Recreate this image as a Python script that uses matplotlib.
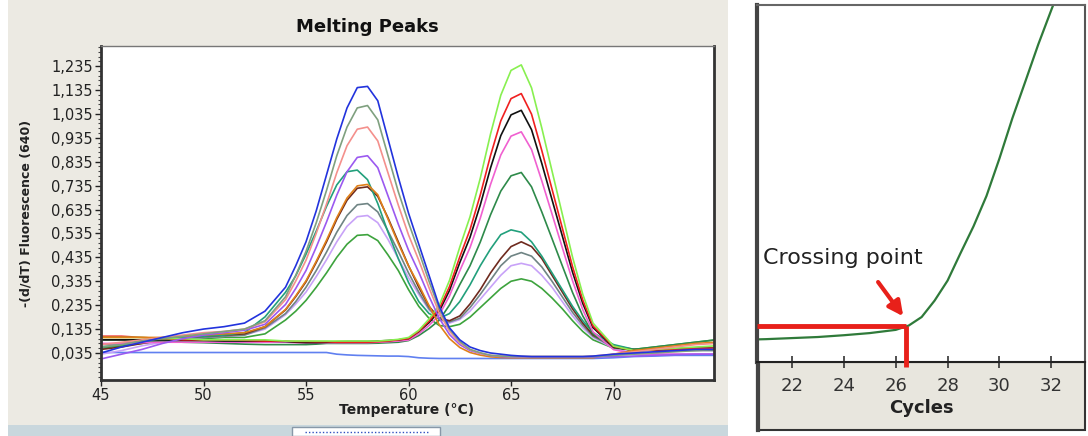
import matplotlib
matplotlib.use("Agg")
import matplotlib.pyplot as plt
from matplotlib.patches import Rectangle
from matplotlib.lines import Line2D
from matplotlib.ticker import FixedLocator

# ---------------- data: melting peaks (left panel) ----------------
temps = [45, 46, 47, 48, 49, 50, 51, 52, 53,
         54, 54.5, 55, 55.5, 56, 56.5, 57, 57.5, 58, 58.5, 59, 59.5, 60, 60.5, 61, 61.5,
         62, 62.5, 63, 63.5, 64, 64.5, 65, 65.5, 66, 66.5, 67, 67.5, 68, 68.5, 69,
         70, 71, 72, 73, 74, 75]

blue_low = [0.035, 0.06, 0.08, 0.10, 0.12, 0.135, 0.145, 0.16, 0.21,
            0.31, 0.40, 0.50, 0.63, 0.78, 0.93, 1.06, 1.145, 1.15, 1.09, 0.93, 0.77, 0.62, 0.49, 0.36, 0.23,
            0.14, 0.09, 0.06, 0.045, 0.035, 0.03, 0.025, 0.022, 0.02, 0.02, 0.02, 0.02, 0.02, 0.02, 0.022,
            0.03, 0.035, 0.04, 0.045, 0.05, 0.05]
graygreen_low = [0.06, 0.07, 0.085, 0.095, 0.105, 0.115, 0.125, 0.135, 0.17,
                 0.27, 0.36, 0.46, 0.58, 0.715, 0.86, 0.98, 1.06, 1.07, 1.01, 0.86, 0.71, 0.58, 0.46, 0.335, 0.22,
                 0.135, 0.083, 0.05, 0.036, 0.025, 0.022, 0.02, 0.02, 0.02, 0.02, 0.02, 0.02, 0.02, 0.02, 0.02,
                 0.025, 0.03, 0.035, 0.04, 0.045, 0.05]
salmon_low = [0.07, 0.08, 0.09, 0.10, 0.11, 0.12, 0.125, 0.135, 0.165,
              0.258, 0.336, 0.423, 0.536, 0.658, 0.789, 0.902, 0.971, 0.98, 0.922, 0.788, 0.654, 0.529, 0.423, 0.308, 0.202,
              0.126, 0.078, 0.049, 0.034, 0.025, 0.022, 0.02, 0.02, 0.02, 0.02, 0.02, 0.02, 0.02, 0.02, 0.022,
              0.03, 0.04, 0.05, 0.06, 0.07, 0.075]
purple_low = [0.01, 0.03, 0.05, 0.075, 0.095, 0.11, 0.12, 0.13, 0.155,
              0.238, 0.305, 0.38, 0.478, 0.583, 0.695, 0.793, 0.853, 0.86, 0.81, 0.692, 0.574, 0.465, 0.373, 0.272, 0.18,
              0.112, 0.07, 0.045, 0.033, 0.024, 0.02, 0.018, 0.018, 0.018, 0.018, 0.018, 0.018, 0.018, 0.018, 0.018,
              0.02, 0.022, 0.025, 0.028, 0.03, 0.03]
orange_low = [0.10, 0.10, 0.10, 0.10, 0.105, 0.11, 0.115, 0.12, 0.145,
              0.217, 0.274, 0.337, 0.419, 0.507, 0.601, 0.683, 0.734, 0.74, 0.697, 0.595, 0.493, 0.399, 0.32, 0.233, 0.153,
              0.095, 0.058, 0.037, 0.026, 0.019, 0.016, 0.015, 0.015, 0.015, 0.015, 0.015, 0.015, 0.015, 0.015, 0.015,
              0.03, 0.045, 0.055, 0.065, 0.075, 0.08]

lightgreen_high = [0.10, 0.10, 0.10, 0.095, 0.095, 0.09, 0.09, 0.09, 0.09,
                   0.085, 0.085, 0.085, 0.085, 0.085, 0.085, 0.085, 0.085, 0.085, 0.085, 0.088, 0.092, 0.10, 0.13, 0.177, 0.235,
                   0.339, 0.478, 0.605, 0.766, 0.951, 1.113, 1.217, 1.24, 1.144, 0.976, 0.796, 0.616, 0.436, 0.28, 0.16,
                   0.064, 0.045, 0.05, 0.055, 0.06, 0.065]
red_high = [0.105, 0.105, 0.10, 0.095, 0.09, 0.09, 0.09, 0.088, 0.085,
            0.085, 0.083, 0.083, 0.082, 0.082, 0.08, 0.08, 0.08, 0.08, 0.082, 0.085, 0.09, 0.095, 0.126, 0.168, 0.22,
            0.313, 0.437, 0.551, 0.696, 0.861, 1.006, 1.099, 1.12, 1.034, 0.882, 0.72, 0.558, 0.396, 0.256, 0.148,
            0.062, 0.045, 0.048, 0.05, 0.053, 0.055]
black_high = [0.09, 0.09, 0.09, 0.09, 0.088, 0.087, 0.085, 0.085, 0.085,
              0.083, 0.08, 0.078, 0.078, 0.08, 0.082, 0.083, 0.083, 0.083, 0.085, 0.087, 0.09, 0.095, 0.124, 0.162, 0.21,
              0.297, 0.413, 0.519, 0.654, 0.809, 0.944, 1.031, 1.05, 0.969, 0.828, 0.676, 0.525, 0.373, 0.242, 0.141,
              0.06, 0.045, 0.048, 0.05, 0.053, 0.055]
magenta_high = [0.075, 0.075, 0.078, 0.08, 0.08, 0.08, 0.08, 0.08, 0.08,
                0.08, 0.078, 0.078, 0.078, 0.078, 0.078, 0.078, 0.078, 0.078, 0.08, 0.082, 0.085, 0.089, 0.115, 0.15, 0.194,
                0.274, 0.379, 0.476, 0.599, 0.74, 0.863, 0.942, 0.96, 0.886, 0.755, 0.616, 0.476, 0.337, 0.216, 0.123,
                0.049, 0.032, 0.03, 0.03, 0.03, 0.03]
darkgreen_high = [0.09, 0.09, 0.088, 0.085, 0.08, 0.078, 0.075, 0.072, 0.07,
                  0.07, 0.07, 0.07, 0.072, 0.075, 0.075, 0.075, 0.075, 0.075, 0.076, 0.078, 0.08, 0.087, 0.108, 0.137, 0.172,
                  0.236, 0.321, 0.40, 0.499, 0.613, 0.712, 0.776, 0.79, 0.73, 0.625, 0.513, 0.40, 0.288, 0.19, 0.115,
                  0.055, 0.05, 0.06, 0.07, 0.08, 0.09]

teal_het = [0.06, 0.07, 0.08, 0.09, 0.10, 0.105, 0.11, 0.12, 0.186,
            0.289, 0.358, 0.448, 0.545, 0.648, 0.738, 0.793, 0.80, 0.76, 0.66, 0.54, 0.43, 0.33, 0.25, 0.20, 0.18,
            0.20, 0.25, 0.32, 0.40, 0.47, 0.53, 0.55, 0.54, 0.50, 0.44, 0.37, 0.30, 0.23, 0.17, 0.12,
            0.07, 0.05, 0.05, 0.05, 0.05, 0.05]
brown_het = [0.05, 0.06, 0.075, 0.09, 0.10, 0.105, 0.11, 0.115, 0.145,
             0.215, 0.271, 0.333, 0.414, 0.50, 0.594, 0.674, 0.724, 0.73, 0.69, 0.60, 0.50, 0.40, 0.31, 0.23, 0.18,
             0.17, 0.19, 0.24, 0.30, 0.37, 0.43, 0.48, 0.50, 0.48, 0.43, 0.36, 0.29, 0.22, 0.16, 0.11,
             0.065, 0.05, 0.05, 0.052, 0.055, 0.055]
gray_het = [0.07, 0.075, 0.085, 0.09, 0.095, 0.10, 0.105, 0.11, 0.14,
            0.20, 0.25, 0.31, 0.38, 0.457, 0.54, 0.61, 0.655, 0.66, 0.625, 0.545, 0.46, 0.37, 0.29, 0.22, 0.175,
            0.165, 0.18, 0.225, 0.28, 0.34, 0.40, 0.44, 0.455, 0.44, 0.395, 0.335, 0.27, 0.205, 0.15, 0.105,
            0.06, 0.045, 0.045, 0.045, 0.045, 0.045]
lilac_het = [0.03, 0.045, 0.065, 0.08, 0.09, 0.10, 0.105, 0.11, 0.135,
             0.195, 0.24, 0.29, 0.355, 0.425, 0.50, 0.565, 0.605, 0.61, 0.58, 0.51, 0.43, 0.35, 0.28, 0.215, 0.175,
             0.16, 0.175, 0.21, 0.26, 0.31, 0.36, 0.40, 0.41, 0.40, 0.36, 0.31, 0.25, 0.19, 0.14, 0.10,
             0.055, 0.035, 0.03, 0.03, 0.03, 0.03]
green_het = [0.055, 0.065, 0.075, 0.085, 0.09, 0.095, 0.10, 0.10, 0.115,
             0.173, 0.21, 0.255, 0.31, 0.37, 0.435, 0.49, 0.527, 0.53, 0.505, 0.445, 0.38, 0.30, 0.23, 0.18, 0.15,
             0.145, 0.155, 0.185, 0.225, 0.265, 0.305, 0.335, 0.345, 0.335, 0.305, 0.265, 0.22, 0.17, 0.125, 0.09,
             0.055, 0.05, 0.06, 0.07, 0.08, 0.09]
ntc_flat = [0.037, 0.037, 0.037, 0.037, 0.037, 0.037, 0.037, 0.037, 0.037,
            0.037, 0.037, 0.037, 0.037, 0.037, 0.03, 0.027, 0.025, 0.024, 0.023, 0.022, 0.022, 0.02, 0.015, 0.013, 0.012,
            0.012, 0.012, 0.012, 0.012, 0.012, 0.012, 0.012, 0.012, 0.012, 0.012, 0.012, 0.012, 0.012, 0.012, 0.012,
            0.015, 0.02, 0.022, 0.025, 0.025, 0.025]

series = [
    (ntc_flat, '#6080F0'),
    (green_het, '#3DA33D'), (lilac_het, '#C8A2F8'), (gray_het, '#6F8484'),
    (brown_het, '#6E2A1E'), (teal_het, '#22A07C'),
    (darkgreen_high, '#2E8A4A'), (magenta_high, '#F060D0'), (black_high, '#111111'),
    (red_high, '#F02020'), (lightgreen_high, '#88F050'),
    (orange_low, '#E0801A'), (purple_low, '#9B59F0'), (salmon_low, '#F4908C'),
    (graygreen_low, '#7FA07F'), (blue_low, '#2233DD'),
]

ytick_values = [0.035, 0.135, 0.235, 0.335, 0.435, 0.535, 0.635, 0.735, 0.835, 0.935, 1.035, 1.135, 1.235]
ytick_labels = ['0,035', '0,135', '0,235', '0,335', '0,435', '0,535', '0,635', '0,735',
                '0,835', '0,935', '1,035', '1,135', '1,235']
xtick_values = [45, 50, 55, 60, 65, 70]

# ---------------- data: amplification curve (right panel) ----------------
cycles = [20.5, 21, 22, 23, 24, 25, 26, 26.5, 27, 27.5, 28, 28.5, 29, 29.5, 30, 30.5, 31, 31.5, 32, 32.5]
fluorescence = [6.3, 6.4, 6.7, 7.0, 7.5, 8.1, 9.0, 10.2, 12.6, 17.2, 22.8, 30.5, 38.0, 46.5, 57.0, 68.3, 78.6, 89.0, 98.6, 108.0]
crossing_cycle = 26.4
threshold = 10.1
cycle_ticks = [22, 24, 26, 28, 30, 32]

# ---------------- figure ----------------
W, H = 1088, 436
fig = plt.figure(figsize=(W / 100, H / 100), dpi=100)
fig.patch.set_facecolor('white')


def fx(px):
    return px / W


def fy(py):
    return 1 - py / H


# left panel background + bottom bar
fig.add_artist(Rectangle((fx(8), fy(425)), fx(728) - fx(8), fy(0) - fy(425),
                         transform=fig.transFigure, facecolor='#ECEAE3', edgecolor='none', zorder=-2))
fig.add_artist(Rectangle((fx(8), 0), fx(728) - fx(8), fy(425),
                         transform=fig.transFigure, facecolor='#C9D7DD', edgecolor='none', zorder=-2))
fig.add_artist(Rectangle((fx(292), 0), fx(440) - fx(292), fy(427),
                         transform=fig.transFigure, facecolor='white', edgecolor='#8898A8', lw=1, zorder=-1))
fig.add_artist(Line2D([fx(305), fx(428)], [fy(432), fy(432)], transform=fig.transFigure,
                      color='#3050C0', lw=1, ls=(0, (1, 1.5)), zorder=-1))

ax1 = fig.add_axes([fx(101), fy(380), fx(714) - fx(101), fy(46) - fy(380)])
ax1.set_facecolor('white')
for vals, col in series:
    ax1.plot(temps, vals, color=col, lw=1.2)
ax1.set_xlim(45, 74.9)
ax1.set_ylim(-0.078, 1.319)
ax1.yaxis.set_major_locator(FixedLocator(ytick_values))
ax1.set_yticklabels(ytick_labels)
ax1.yaxis.set_minor_locator(FixedLocator([0.035 + 0.02 * k for k in range(-5, 65)]))
ax1.set_xticks(xtick_values)
ax1.tick_params(axis='both', which='major', direction='out', length=4, width=1,
                labelsize=10.5, colors='#222222', pad=2)
ax1.tick_params(axis='y', which='minor', direction='out', length=2, width=0.8, colors='#444444')
for side in ['left', 'bottom', 'right']:
    ax1.spines[side].set_linewidth(2)
    ax1.spines[side].set_color('#333333')
ax1.spines['top'].set_linewidth(1)
ax1.spines['top'].set_color('#777777')
ax1.set_ylabel('-(d/dT) Fluorescence (640)', fontsize=9, fontweight='bold', color='#222222')
ax1.yaxis.set_label_coords((33 - 101) / 613, 0.5)

fig.text(fx(367), fy(27), 'Melting Peaks', ha='center', va='center', fontsize=13,
         fontweight='heavy', color='#111111')
fig.text(fx(407), fy(410), 'Temperature (\u00b0C)', ha='center', va='center', fontsize=10,
         fontweight='bold', color='#222222')

# right panel
fig.add_artist(Rectangle((fx(757), fy(430)), fx(1085) - fx(757), fy(362) - fy(430),
                         transform=fig.transFigure, facecolor='#E8E6DE', edgecolor='#333333',
                         lw=1.5, zorder=-1))
fig.add_artist(Line2D([fx(758), fx(758)], [fy(430), fy(362)], transform=fig.transFigure,
                      color='#444444', lw=3, zorder=-1))

ax2 = fig.add_axes([fx(757), fy(362), fx(1085) - fx(757), fy(5) - fy(362)])
ax2.set_facecolor('white')
ax2.plot(cycles, fluorescence, color='#2F7A3A', lw=1.6)
ax2.set_xlim(20.65, 33.3)
ax2.set_ylim(0, 100)
ax2.set_yticks([])
ax2.set_xticks(cycle_ticks)
ax2.tick_params(axis='x', direction='inout', length=9, width=1.2, colors='#333333',
                labelsize=13, pad=6)
ax2.spines['left'].set_linewidth(3)
ax2.spines['left'].set_color('#444444')
ax2.spines['bottom'].set_linewidth(1.5)
ax2.spines['bottom'].set_color('#222222')
ax2.spines['top'].set_linewidth(1.5)
ax2.spines['top'].set_color('#666666')
ax2.spines['right'].set_linewidth(1.5)
ax2.spines['right'].set_color('#555555')

red = '#E8201A'
ax2.plot([20.65, crossing_cycle], [threshold, threshold], color=red, lw=3.5,
         solid_capstyle='butt', zorder=4)
ax2.plot([crossing_cycle, crossing_cycle], [threshold, -1.5], color=red, lw=3.5,
         solid_capstyle='butt', clip_on=False, zorder=4)
ax2.annotate('', xy=(26.29, 12.8), xytext=(25.32, 22.4),
             arrowprops=dict(arrowstyle='-|>', color=red, lw=3, mutation_scale=22,
                             shrinkA=0, shrinkB=0))
ax2.text(20.88, 29.1, 'Crossing point', fontsize=16, va='center', ha='left', color='#222222')
fig.text(fx(921), fy(408), 'Cycles', ha='center', va='center', fontsize=13,
         fontweight='bold', color='#222222')

fig.savefig('out.png', dpi=100)
